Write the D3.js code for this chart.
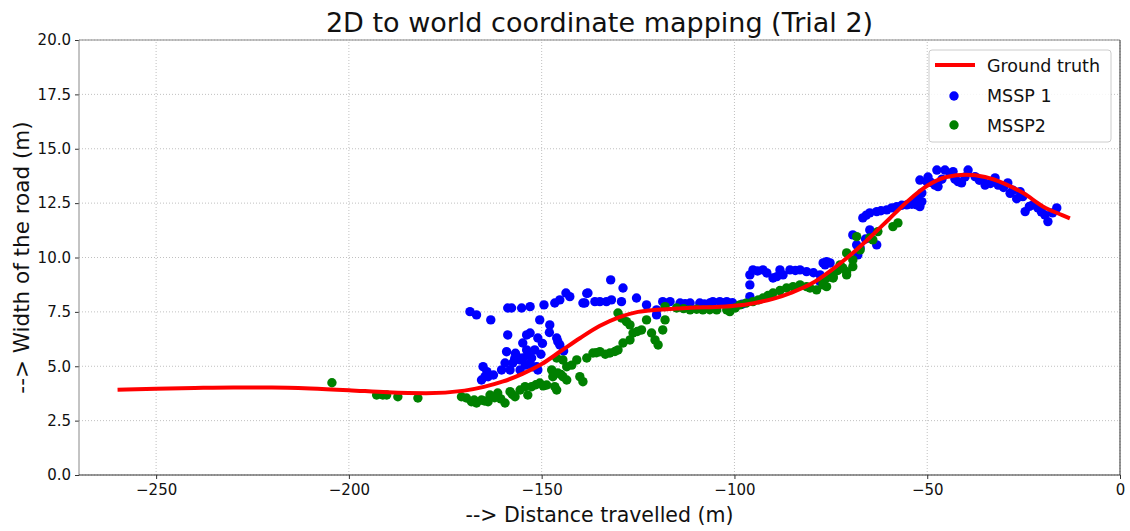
<!DOCTYPE html>
<html>
<head>
<meta charset="utf-8">
<script src="https://cdn.jsdelivr.net/npm/d3@7"></script>
<style>
  body { margin: 0; background: #fff; }
  svg { font-family: "DejaVu Sans", sans-serif; }
</style>
</head>
<body>
<svg id="chart" width="1130" height="531"></svg>
<script>
// ground truth trajectory
const gtX = [-260,-250,-240,-230,-220,-210,-200,-190,-180,-170,-165,-160,-155,-150,-145,-140,-135,-130,-125,-120,-115,-110,-105,-100,-95,-90,-85,-80,-75,-70,-65,-60,-55,-50,-45,-40,-35,-30,-25,-20,-15,-13]
const gtY = [3.92,3.97,4.0,4.02,4.02,3.98,3.9,3.8,3.76,3.88,4.05,4.3,4.65,5.1,5.7,6.3,6.85,7.25,7.5,7.6,7.65,7.7,7.72,7.78,7.9,8.1,8.4,8.8,9.4,10.1,10.9,11.75,12.6,13.3,13.7,13.8,13.7,13.4,12.95,12.35,11.95,11.8]

// MSSP 1 detections
const m1X = [-168.6,-166.9,-163.2,-158.8,-157.8,-155.2,-153.0,-149.4,-146.6,-145.3,-143.7,-142.7,-138.8,-138.0,-150.5,-147.9,-158.8,-153.9,-153.0,-151.0,-154.9,-146.1,-145.8,-145.3,-159.1,-159.5,-160.4,-156.5,-155.6,-154.9,-153.6,-151.8,-152.6,-151.3,-151.0,-165.2,-164.7,-165.6,-163.9,-157.5,-158.2,-155.6,-152.3,-153.9,
  -156.8,-154.2,-150.2,-148.0,-144.3,-162.5,-164.2,-157.0,-153.2,-149.8,
  -138.3,-139.3,-136.2,-134.9,-133.2,-131.9,-132.1,-128.9,-129.3,-125.4,-122.8,-120.2,-120.2,-118.6,-116.7,-114.1,-111.5,-109.0,-105.6,-103.0,
  -103.8,-102.0,-96.0,-96.0,-95.2,-92.6,-90.0,-87.4,-85.6,-83.0,-81.3,-77.8,-77.8,-76.1,-96.0,-106.4,-91.6,-88.2,-77.0,
  -94.0,-89.0,-84.2,-79.5,-100.5,-98.0,-107.8,-112.8,
  -66.7,-64.9,-63.1,-60.5,-57.9,-55.3,-52.7,-52.4,-69.3,-68.3,-67.4,-63.1,-64.9,-68.0,-76.5,-75.2,-52.7,-51.9,
  -65.8,-62.0,-59.2,-56.6,-54.0,-66.0,
  -51.9,-50.1,-48.0,-47.2,-47.5,-45.4,-43.3,-42.0,-41.1,-39.4,-37.6,-35.5,-35.0,-32.4,-31.6,-29.1,-27.8,-25.9,-25.2,-24.6,-22.6,-21.3,-19.5,-18.7,-16.4,-51.4,-51.4,
  -49.0,-46.2,-44.0,-40.2,-36.5,-33.6,-30.2,-28.5,-26.8,-23.5,-20.4,-17.5,-49.8,-42.8]
const m1Y = [7.51,7.36,7.13,7.68,7.68,7.68,7.74,7.82,7.91,8.05,8.37,8.20,7.91,8.37,7.13,6.90,6.44,6.44,6.53,6.30,6.07,6.30,6.13,5.98,5.67,5.15,4.83,5.44,5.29,5.38,5.52,5.75,5.38,4.98,4.83,4.98,4.52,4.37,4.52,5.15,4.83,4.83,4.98,5.75,
  5.60,5.05,5.55,6.55,5.70,4.60,4.75,5.35,5.12,6.05,
  8.35,7.91,7.97,7.97,7.97,8.05,8.97,8.60,7.97,8.14,7.82,7.59,7.36,7.97,7.97,7.91,7.91,7.91,7.97,7.91,
  7.97,7.97,9.20,8.74,9.43,9.43,9.06,9.20,9.43,9.43,9.35,9.20,8.89,9.81,8.20,7.91,9.29,9.43,9.75,
  9.38,9.12,9.40,9.30,7.92,7.85,7.86,7.88,
  11.82,12.05,12.11,12.19,12.34,12.42,12.42,12.74,11.04,10.58,10.44,10.58,11.27,10.12,9.66,9.75,12.65,12.34,
  11.95,12.15,12.28,12.40,12.45,10.85,
  13.56,13.49,13.33,13.26,14.02,14.02,13.95,13.49,13.43,14.02,13.72,13.56,13.33,13.66,13.33,13.43,13.10,13.03,12.80,12.11,12.42,12.28,11.96,11.65,12.28,12.57,12.97,
  13.45,13.60,13.85,13.70,13.55,13.40,13.22,12.95,12.70,12.35,12.10,12.05,13.70,13.60]

// MSSP2 detections
const m2X = [-204.4,-192.8,-191.2,-190.2,-187.3,-182.1,
  -170.8,-169.5,-168.2,-166.9,-165.6,-163.4,-163.9,-161.4,-159.5,-158.2,-156.9,-155.6,-154.3,-153.6,-152.6,-150.5,-148.7,-146.6,-146.1,-147.4,-147.1,-145.8,-144.5,-143.5,-146.1,-144.5,-143.5,-140.9,-140.1,-139.3,-138.3,
  -167.5,-164.8,-162.2,-160.6,-157.6,-151.5,-149.6,-145.0,-142.2,
  -136.7,-134.9,-132.3,-130.2,-128.9,-127.1,-126.3,-127.1,-128.0,-129.3,-130.2,-124.1,-122.8,-121.5,-120.6,-119.8,-118.6,-118.0,-118.0,-115.0,-111.5,-108.2,-104.6,-102.0,
  -135.8,-133.5,-131.0,-125.2,-113.2,-109.8,-106.4,
  -101.2,-98.6,-95.2,-92.6,-90.0,-86.5,-83.0,-81.3,-80.4,-78.7,-77.0,-76.1,-74.4,-71.9,-70.9,-72.6,-69.3,-76.1,-74.4,
  -99.8,-97.0,-93.8,-91.3,-88.2,-84.8,-73.2,
  -68.3,-64.9,-62.8,-58.9,-57.6,-70.9,-69.3,-70.9,-74.4,-77.0,-67.4,-64.1]
const m2Y = [4.24,3.68,3.68,3.68,3.60,3.54,
  3.60,3.54,3.37,3.31,3.45,3.68,3.37,3.77,3.31,3.83,3.60,3.91,4.06,3.68,4.06,4.23,4.14,4.06,3.91,4.83,4.52,4.69,4.52,4.37,5.38,5.29,4.98,5.29,4.52,4.29,5.38,
  3.45,3.40,3.55,3.50,3.70,4.15,4.10,4.62,5.05,
  5.61,5.67,5.61,5.75,6.07,6.21,6.53,6.90,7.05,7.22,7.45,6.67,7.13,6.53,6.21,5.98,6.67,7.13,7.74,7.68,7.59,7.59,7.59,7.59,
  5.62,5.55,5.68,6.60,7.65,7.62,7.60,
  7.51,7.82,7.97,8.14,8.37,8.60,8.74,8.66,8.60,8.51,8.83,9.06,9.29,9.52,9.20,9.66,9.58,8.66,9.12,
  7.68,7.90,8.05,8.25,8.48,8.66,9.40,
  10.96,10.90,11.19,11.42,11.59,10.21,9.89,9.35,9.06,8.74,10.35,10.81]

const xTicks = [-250, -200, -150, -100, -50, 0]
const yTicks = [0, 2.5, 5, 7.5, 10, 12.5, 15, 17.5, 20]

const svg = d3.select('#chart')
const margin = { left: 79, right: 10, top: 40, bottom: 56 }
const W = 1130, H = 531

const x = d3.scaleLinear().domain([-270, 0]).range([margin.left, W - margin.right])
const y = d3.scaleLinear().domain([0, 20]).range([H - margin.bottom, margin.top])

const minus = s => s.replace('-', '\u2212')

// grid
svg.append('g').selectAll('line.gx')
  .data(xTicks)
  .enter().append('line')
  .attr('x1', d => x(d)).attr('x2', d => x(d))
  .attr('y1', y(0)).attr('y2', y(20))
  .attr('stroke', '#b0b0b0').attr('stroke-width', 0.8)
  .attr('stroke-dasharray', '1,2')

svg.append('g').selectAll('line.gy')
  .data(yTicks)
  .enter().append('line')
  .attr('x1', x(-270)).attr('x2', x(0))
  .attr('y1', d => y(d)).attr('y2', d => y(d))
  .attr('stroke', '#b0b0b0').attr('stroke-width', 0.8)
  .attr('stroke-dasharray', '1,2')

// axes
const xAxis = svg.append('g')
  .attr('transform', `translate(0,${y(0)})`)
  .call(d3.axisBottom(x).tickValues(xTicks).tickSize(4).tickPadding(5).tickFormat(d => minus(String(d))))
const yAxis = svg.append('g')
  .attr('transform', `translate(${x(-270)},0)`)
  .call(d3.axisLeft(y).tickValues(yTicks).tickSize(4).tickPadding(4).tickFormat(d3.format('.1f')))

;[xAxis, yAxis].forEach(a => {
  a.selectAll('text').attr('font-size', 15).attr('fill', '#111').attr('font-family', '"DejaVu Sans", sans-serif')
  a.selectAll('.tick line').attr('stroke', '#333')
  a.select('.domain').remove()
})

// frame
svg.append('line').attr('x1', x(-270)).attr('x2', x(-270)).attr('y1', y(0)).attr('y2', y(20)).attr('stroke', '#888').attr('stroke-width', 1)
svg.append('line').attr('x1', x(-270)).attr('x2', x(0)).attr('y1', y(20)).attr('y2', y(20)).attr('stroke', '#888').attr('stroke-width', 1)
svg.append('line').attr('x1', x(-270)).attr('x2', x(0)).attr('y1', y(0)).attr('y2', y(0)).attr('stroke', '#333').attr('stroke-width', 1)
svg.append('line').attr('x1', x(0)).attr('x2', x(0)).attr('y1', y(0)).attr('y2', y(20)).attr('stroke', '#333').attr('stroke-width', 1)

// scatter
const m1 = m1X.map((d, i) => [d, m1Y[i]])
const m2 = m2X.map((d, i) => [d, m2Y[i]])

svg.append('g').selectAll('circle')
  .data(m1).enter().append('circle')
  .attr('cx', d => x(d[0])).attr('cy', d => y(d[1]))
  .attr('r', 4.7).attr('fill', '#0000ff')

svg.append('g').selectAll('circle')
  .data(m2).enter().append('circle')
  .attr('cx', d => x(d[0])).attr('cy', d => y(d[1]))
  .attr('r', 4.7).attr('fill', '#008000')

// ground truth line
const line = d3.line().x(d => x(d[0])).y(d => y(d[1])).curve(d3.curveMonotoneX)
svg.append('path')
  .datum(gtX.map((d, i) => [d, gtY[i]]))
  .attr('d', line)
  .attr('fill', 'none').attr('stroke', '#ff0000').attr('stroke-width', 4)

// title + labels
svg.append('text').attr('x', (x(-270) + x(0)) / 2).attr('y', 32)
  .attr('text-anchor', 'middle').attr('font-size', 27).attr('fill', '#111')
  .text('2D to world coordinate mapping (Trial 2)')

svg.append('text').attr('x', (x(-270) + x(0)) / 2).attr('y', 522)
  .attr('text-anchor', 'middle').attr('font-size', 20.5).attr('fill', '#111')
  .text('--> Distance travelled (m)')

svg.append('text')
  .attr('transform', `translate(29,${(y(0) + y(20)) / 2}) rotate(-90)`)
  .attr('text-anchor', 'middle').attr('font-size', 21.5).attr('fill', '#111')
  .text('--> Width of the road (m)')

// legend
const lg = svg.append('g').attr('transform', 'translate(929,50)')
lg.append('rect').attr('width', 182).attr('height', 92).attr('rx', 3)
  .attr('fill', '#fff').attr('fill-opacity', 0.85).attr('stroke', '#ccc')
lg.append('line').attr('x1', 6).attr('x2', 46).attr('y1', 15).attr('y2', 15)
  .attr('stroke', '#ff0000').attr('stroke-width', 4)
lg.append('circle').attr('cx', 25).attr('cy', 46).attr('r', 4.7).attr('fill', '#0000ff')
lg.append('circle').attr('cx', 25).attr('cy', 75).attr('r', 4.7).attr('fill', '#008000')
;['Ground truth', 'MSSP 1', 'MSSP2'].forEach((t, i) => {
  lg.append('text').attr('x', 58).attr('y', 22 + i * 30)
    .attr('font-size', 17.5).attr('fill', '#111').text(t)
})
</script>
</body>
</html>
